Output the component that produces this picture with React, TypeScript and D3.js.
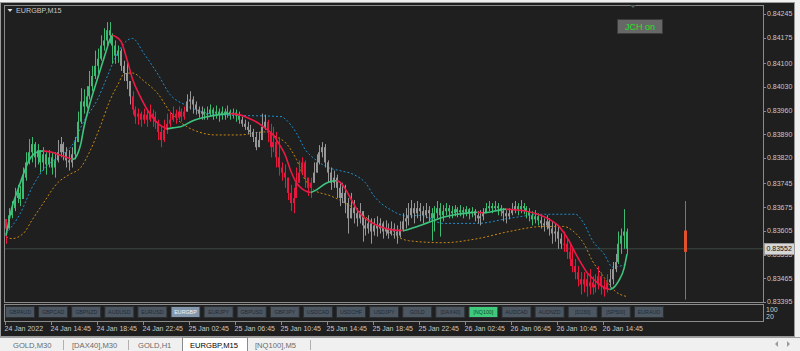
import React from "react";
import * as d3 from "d3";

// ---------- DATA ----------
const symbolTitle = "EURGBP,M15";
const startTime = Date.UTC(2022, 0, 24, 10, 45);
const barMinutes = 15;
const firstOpen = 0.8364;

const closes = [
  0.83612, 0.83651, 0.83672, 0.83702, 0.83717, 0.83699, 0.83762, 0.83807, 0.83837, 0.83861,
  0.83822, 0.83843, 0.83807, 0.83831, 0.83801, 0.83822, 0.83792, 0.83813, 0.83837, 0.83861,
  0.83837, 0.83813, 0.83807, 0.83831, 0.83867, 0.83927, 0.83987, 0.83972, 0.84002, 0.84032,
  0.84062, 0.84092, 0.84113, 0.84152, 0.84167, 0.84197, 0.84182, 0.84152, 0.84122, 0.84137,
  0.84092, 0.84071, 0.84047, 0.84002, 0.83963, 0.83942, 0.83951, 0.83933, 0.83948, 0.83933,
  0.83951, 0.83942, 0.83927, 0.83897, 0.83873, 0.83903, 0.83921, 0.83933, 0.83951, 0.83939,
  0.83957, 0.83942, 0.83957, 0.83987, 0.83993, 0.83978, 0.83963, 0.83951, 0.83957, 0.83948,
  0.83951, 0.83963, 0.83951, 0.83957, 0.83948, 0.83957, 0.83951, 0.83957, 0.83948, 0.83954,
  0.83945, 0.83933, 0.83921, 0.83912, 0.83903, 0.83897, 0.83882, 0.83852, 0.83873, 0.83912,
  0.83927, 0.83897, 0.83852, 0.83867, 0.83822, 0.83792, 0.83777, 0.83762, 0.83717, 0.83687,
  0.83702, 0.83747, 0.83777, 0.83807, 0.83762, 0.83732, 0.83747, 0.83777, 0.83807, 0.83837,
  0.83852, 0.83807, 0.83777, 0.83747, 0.83762, 0.83732, 0.83702, 0.83717, 0.83687, 0.83642,
  0.83672, 0.83657, 0.83642, 0.83663, 0.83621, 0.83612, 0.83627, 0.83603, 0.83621, 0.83612,
  0.83627, 0.83603, 0.83612, 0.83597, 0.83612, 0.83603, 0.83591, 0.83609, 0.83633, 0.83642,
  0.83651, 0.83672, 0.83657, 0.83672, 0.83663, 0.83651, 0.83666, 0.83657, 0.83642, 0.83657,
  0.83672, 0.83651, 0.83663, 0.83672, 0.83663, 0.83657, 0.83669, 0.8366, 0.83666, 0.8366,
  0.83669, 0.83657, 0.83663, 0.83651, 0.83642, 0.83648, 0.83657, 0.83672, 0.83678, 0.83672,
  0.83678, 0.83672, 0.83663, 0.83657, 0.83648, 0.83657, 0.83669, 0.83678, 0.83669, 0.83678,
  0.83672, 0.83663, 0.83651, 0.83639, 0.83648, 0.83636, 0.83627, 0.83621, 0.83633, 0.83612,
  0.83597, 0.83603, 0.83582, 0.83567, 0.83567, 0.83543, 0.83522, 0.83501, 0.83483, 0.83462,
  0.83447, 0.83462, 0.83441, 0.83453, 0.83438, 0.83447, 0.83471, 0.83441, 0.83432, 0.83453,
  0.83462, 0.83492, 0.83513, 0.83567, 0.83591, 0.83603, 0.83552,
];

const highs = [
  0.83633, 0.83672, 0.83693, 0.83732, 0.83741, 0.83738, 0.83792, 0.83837, 0.83876, 0.83882,
  0.83867, 0.83861, 0.83843, 0.83852, 0.83837, 0.83843, 0.83837, 0.83837, 0.83873, 0.83882,
  0.83867, 0.83852, 0.83843, 0.83852, 0.83882, 0.83957, 0.84026, 0.84023, 0.84032, 0.84077,
  0.84092, 0.84137, 0.84143, 0.84182, 0.84203, 0.84221, 0.84221, 0.84188, 0.84167, 0.84152,
  0.84143, 0.84107, 0.84101, 0.84038, 0.84017, 0.83972, 0.83966, 0.83957, 0.83966, 0.83963,
  0.83978, 0.83963, 0.83957, 0.83933, 0.83912, 0.83933, 0.83951, 0.83957, 0.83972, 0.83963,
  0.83972, 0.83966, 0.83972, 0.84008, 0.84017, 0.84002, 0.83987, 0.83972, 0.83972, 0.83966,
  0.83972, 0.83978, 0.83969, 0.83975, 0.83966, 0.83972, 0.83966, 0.83975, 0.83963, 0.83966,
  0.83963, 0.83957, 0.83942, 0.83933, 0.83927, 0.83918, 0.83906, 0.83897, 0.83897, 0.83951,
  0.83948, 0.83933, 0.83921, 0.83912, 0.83897, 0.83882, 0.83807, 0.83801, 0.83762, 0.83741,
  0.83732, 0.83792, 0.83813, 0.83822, 0.83813, 0.83753, 0.83762, 0.83807, 0.83831, 0.83858,
  0.83867, 0.83861, 0.83813, 0.83792, 0.83783, 0.83771, 0.83747, 0.83747, 0.83741, 0.83702,
  0.83717, 0.83696, 0.83672, 0.83687, 0.83657, 0.83642, 0.83651, 0.83642, 0.83642, 0.83648,
  0.83642, 0.83633, 0.83636, 0.83627, 0.83633, 0.83627, 0.83621, 0.83633, 0.83657, 0.83672,
  0.83687, 0.83696, 0.83687, 0.83693, 0.83687, 0.83678, 0.83687, 0.83678, 0.83672, 0.83678,
  0.83693, 0.83687, 0.83681, 0.83687, 0.83681, 0.83678, 0.83681, 0.83675, 0.83681, 0.83675,
  0.83678, 0.83672, 0.83675, 0.83669, 0.83663, 0.83666, 0.83672, 0.83687, 0.83693, 0.83687,
  0.83693, 0.83687, 0.83681, 0.83672, 0.83666, 0.83672, 0.83687, 0.83693, 0.83687, 0.83696,
  0.83687, 0.83678, 0.83672, 0.83663, 0.83666, 0.83657, 0.83648, 0.83642, 0.83651, 0.83642,
  0.83633, 0.83627, 0.83621, 0.83597, 0.83603, 0.83582, 0.83567, 0.83552, 0.83522, 0.83501,
  0.83483, 0.83483, 0.83477, 0.83492, 0.83471, 0.83477, 0.83501, 0.83483, 0.83462, 0.83477,
  0.83492, 0.83513, 0.83537, 0.83603, 0.83612, 0.83669, 0.83612,
];

const lows = [
  0.83567, 0.83612, 0.83642, 0.83663, 0.83687, 0.83678, 0.83702, 0.83753, 0.83801, 0.83807,
  0.83792, 0.83801, 0.83777, 0.83783, 0.83771, 0.83792, 0.83771, 0.83762, 0.83807, 0.83822,
  0.83813, 0.83792, 0.83783, 0.83792, 0.83816, 0.83867, 0.83921, 0.83951, 0.83966, 0.83993,
  0.84017, 0.84053, 0.84071, 0.84107, 0.84137, 0.84152, 0.84158, 0.84098, 0.84098, 0.84101,
  0.84077, 0.84047, 0.84023, 0.83978, 0.83948, 0.83921, 0.83918, 0.83912, 0.83921, 0.83912,
  0.83927, 0.83912, 0.83906, 0.83873, 0.83852, 0.83867, 0.83891, 0.83912, 0.83927, 0.83921,
  0.83933, 0.83927, 0.83933, 0.83957, 0.83963, 0.83951, 0.83948, 0.83939, 0.83933, 0.83933,
  0.83933, 0.83942, 0.83933, 0.83936, 0.83927, 0.83933, 0.83933, 0.83939, 0.83933, 0.83936,
  0.83927, 0.83921, 0.83912, 0.83903, 0.83891, 0.83882, 0.83867, 0.83843, 0.83852, 0.83897,
  0.83903, 0.83867, 0.83822, 0.83837, 0.83792, 0.83768, 0.83753, 0.83732, 0.83696, 0.83663,
  0.83657, 0.83711, 0.83753, 0.83771, 0.83732, 0.83708, 0.83702, 0.83753, 0.83777, 0.83801,
  0.83822, 0.83792, 0.83747, 0.83726, 0.83732, 0.83702, 0.83678, 0.83687, 0.83657, 0.83597,
  0.83642, 0.83627, 0.83618, 0.83627, 0.83573, 0.83591, 0.83597, 0.83567, 0.83591, 0.83588,
  0.83597, 0.83582, 0.83591, 0.83582, 0.83591, 0.83582, 0.83567, 0.83585, 0.83603, 0.83612,
  0.83621, 0.83642, 0.83627, 0.83642, 0.83633, 0.83627, 0.83642, 0.83633, 0.83576, 0.83603,
  0.83642, 0.83588, 0.83633, 0.83651, 0.83642, 0.83642, 0.83648, 0.83645, 0.83648, 0.83642,
  0.83648, 0.83639, 0.83645, 0.83633, 0.83627, 0.83621, 0.83636, 0.83657, 0.83663, 0.83657,
  0.83663, 0.83651, 0.83648, 0.83633, 0.83627, 0.83639, 0.83651, 0.83657, 0.83651, 0.83657,
  0.83654, 0.83642, 0.83633, 0.83621, 0.83627, 0.83621, 0.83612, 0.83603, 0.83609, 0.83591,
  0.83567, 0.83573, 0.83552, 0.83552, 0.83543, 0.83522, 0.83501, 0.83483, 0.83462, 0.83441,
  0.83417, 0.83423, 0.83411, 0.83417, 0.83417, 0.83423, 0.83432, 0.83417, 0.83411, 0.83423,
  0.83438, 0.83447, 0.83483, 0.83507, 0.83537, 0.83552, 0.83537,
];

// trend state of the candles: [first bar, state]
const candleStates: [number, string][] = [
  [0, "down"], [1, "up"], [18, "flat"], [24, "up"], [40, "flat"], [44, "down"],
  [63, "flat"], [69, "up"], [82, "flat"], [91, "down"], [107, "flat"], [148, "up"],
  [163, "flat"], [167, "up"], [173, "flat"], [178, "up"], [186, "flat"], [194, "down"],
  [210, "flat"], [213, "up"],
];

// trend moving average (bar index, price)
const maBars = [0, 2, 4, 6, 8, 10, 12, 13, 16, 19, 22, 23, 24, 25, 26, 27, 29, 31, 33, 35, 36, 37, 38, 40, 42, 44, 47, 50, 53, 56, 58, 61, 65, 70, 74, 78, 81, 84, 87, 90, 93, 95, 97, 99, 101, 103, 105, 106, 108, 111, 113, 115, 116, 118, 120, 122, 124, 127, 131, 135, 138, 139, 142, 145, 148, 152, 157, 161, 164, 166, 168, 172, 174, 177, 181, 185, 189, 192, 194, 196, 198, 200, 202, 204, 206, 208, 210, 211, 213, 215, 216];
const maPrices = [0.83591, 0.83672, 0.83723, 0.83771, 0.83813, 0.83834, 0.8384, 0.83841, 0.83837, 0.83828, 0.83819, 0.83816, 0.83819, 0.83834, 0.83861, 0.83906, 0.83975, 0.84032, 0.84086, 0.8414, 0.84167, 0.84182, 0.84179, 0.84164, 0.84113, 0.84053, 0.83996, 0.83951, 0.83921, 0.83906, 0.83909, 0.83913, 0.8393, 0.83942, 0.83948, 0.83951, 0.83948, 0.83939, 0.83927, 0.83909, 0.83888, 0.83861, 0.83831, 0.83783, 0.83747, 0.83729, 0.8372, 0.83718, 0.83726, 0.83744, 0.83751, 0.83753, 0.8375, 0.83729, 0.83699, 0.83669, 0.83648, 0.8363, 0.83615, 0.83607, 0.83606, 0.83607, 0.83615, 0.83624, 0.83633, 0.83645, 0.83654, 0.83658, 0.8366, 0.83658, 0.8366, 0.83667, 0.83669, 0.83667, 0.83663, 0.83654, 0.83639, 0.83621, 0.836, 0.83573, 0.8354, 0.8351, 0.83483, 0.83465, 0.8345, 0.83438, 0.83432, 0.83435, 0.83456, 0.83495, 0.83537];

// upper (blue dotted) band
const upperBars = [0, 5, 9, 13, 19, 23, 27, 32, 35, 38, 41, 44, 48, 53, 57, 62, 68, 73, 96, 97, 101, 104, 108, 112, 116, 121, 125, 128, 134, 140, 144, 152, 164, 175, 187, 198, 201, 204, 208, 211, 216];
const upperPrices = [0.83597, 0.83657, 0.83732, 0.83786, 0.83828, 0.83858, 0.83927, 0.83996, 0.84056, 0.84116, 0.84158, 0.84173, 0.84128, 0.84065, 0.84008, 0.83978, 0.83957, 0.83948, 0.83942, 0.83936, 0.83894, 0.83846, 0.83813, 0.83792, 0.83783, 0.83771, 0.83747, 0.83708, 0.83666, 0.83648, 0.83651, 0.83627, 0.83627, 0.83642, 0.83654, 0.83654, 0.83627, 0.83576, 0.83537, 0.83498, 0.83507];

// lower (orange dotted) band
const lowerBars = [0, 2, 6, 9, 13, 18, 22, 26, 29, 33, 36, 39, 41, 44, 48, 53, 57, 63, 67, 73, 81, 90, 94, 97, 101, 104, 107, 113, 118, 122, 128, 134, 140, 152, 164, 175, 187, 194, 197, 201, 204, 208, 212, 216];
const lowerPrices = [0.83588, 0.83582, 0.83597, 0.83636, 0.83687, 0.83747, 0.83771, 0.83792, 0.83837, 0.83918, 0.83987, 0.84038, 0.84068, 0.84071, 0.84047, 0.84008, 0.83957, 0.83912, 0.83897, 0.83888, 0.83888, 0.83897, 0.83882, 0.83867, 0.83816, 0.83756, 0.83726, 0.83708, 0.83687, 0.83666, 0.83627, 0.83597, 0.83576, 0.8357, 0.83582, 0.83603, 0.83618, 0.83618, 0.83606, 0.83567, 0.83516, 0.83468, 0.83426, 0.83411];

// higher-timeframe candle drawn to the right of the price
const htfBar = 236;
const htfOpen = 0.83606;
const htfHigh = 0.83693;
const htfLow = 0.83402;
const htfClose = 0.83543;

const currentPrice = 0.83552;
const priceMin = 0.83395;
const priceMax = 0.84245;
const priceTicks = [0.84245, 0.84175, 0.841, 0.8403, 0.8396, 0.8389, 0.8382, 0.83745, 0.83675, 0.83605, 0.83535, 0.83465, 0.83395];
const timeTickEvery = 16;

const symbolButtons = ["GBPAUD", "GBPCAD", "GBPNZD", "AUDUSD", "EURUSD", "EURGBP", "EURJPY", "GBPUSD", "GBPJPY", "USDCAD", "USDCHF", "USDJPY", "GOLD", "[DAX40]", "[NQ100]", "AUDCAD", "AUDNZD", "[DJ30]", "[SP500]", "EURAUD"];
const activeButton = "EURGBP";
const markedButton = "[NQ100]";
const subLevels = ["100", "20"];

const chartTabs = ["GOLD,M30", "[DAX40],M30", "GOLD,H1", "EURGBP,M15", "[NQ100],M5"];
const activeTab = "EURGBP,M15";

// ---------- STYLE ----------
const C = {
  bg: "#1f1f1f",
  frame: "#8a8a8a",
  text: "#c8c8c8",
  up: "#3dbb73",
  down: "#e8173f",
  flat: "#979797",
  maUp: "#3fc47e",
  maDown: "#ea1a45",
  upper: "#1d8fcc",
  lower: "#c98712",
  htf: "#e0522c",
  priceLine: "#3b4a44",
};
const FONT = "'Liberation Sans', Arial, sans-serif";

const barTime = (i: number) => new Date(startTime + i * barMinutes * 60000);

function stateAt(i: number) {
  let s = candleStates[0][1];
  for (const [b, st] of candleStates) if (b <= i) s = st;
  return s;
}

function trendSegments(bars: number[], prices: number[]) {
  const segs: { dir: string; pts: [number, number][] }[] = [];
  let dir = prices[1] >= prices[0] ? "up" : "down";
  let cur: [number, number][] = [[bars[0], prices[0]]];
  for (let k = 1; k < bars.length; k++) {
    const d = prices[k] > prices[k - 1] ? "up" : prices[k] < prices[k - 1] ? "down" : dir;
    if (d !== dir) {
      segs.push({ dir, pts: cur });
      cur = [[bars[k - 1], prices[k - 1]]];
      dir = d;
    }
    cur.push([bars[k], prices[k]]);
  }
  segs.push({ dir, pts: cur });
  return segs;
}

export default function App() {
  const plot = { l: 5, r: 763, t: 6, b: 302 };
  const n = closes.length;
  const x = d3.scaleUtc().domain([barTime(0), barTime(n - 1)]).range([6, 627]);
  const y = d3.scaleLinear().domain([priceMin, priceMax]).range([302, 14]);
  const xb = (i: number) => x(barTime(i));

  const line = d3
    .line<[number, number]>()
    .x((d) => xb(d[0]))
    .y((d) => y(d[1]))
    .curve(d3.curveMonotoneX);

  const maSegs = trendSegments(maBars, maPrices);
  const upperPts = upperBars.map((b, k) => [b, upperPrices[k]] as [number, number]);
  const lowerPts = lowerBars.map((b, k) => [b, lowerPrices[k]] as [number, number]);

  const fmtFirst = d3.utcFormat("%d %b %Y");
  const fmtTime = d3.utcFormat("%d %b %H:%M");
  const timeTicks = d3.range(0, n, timeTickEvery);

  const candles = closes.map((c, i) => {
    const o = i === 0 ? firstOpen : closes[i - 1];
    const hi = Math.max(highs[i], o, c);
    const lo = Math.min(lows[i], o, c);
    const st = stateAt(i);
    const col = st === "up" ? C.up : st === "down" ? C.down : C.flat;
    const cx = Math.round(xb(i));
    const yTop = y(Math.max(o, c));
    const yBot = y(Math.min(o, c));
    return (
      <g key={i} fill={col}>
        <rect x={cx} y={y(hi)} width={1} height={Math.max(1, y(lo) - y(hi))} />
        <rect x={cx - 1} y={yTop} width={2} height={Math.max(1, yBot - yTop)} />
      </g>
    );
  });

  const btnPitch = 33.1;
  const tabTextX = [13, 72, 138, 190, 255];
  const tabSeps = [63, 128, 310];

  const hx = Math.round(xb(htfBar));
  const priceY = y(currentPrice);

  return (
    <svg
      width={800}
      height={351}
      style={{ position: "absolute", left: 0, top: 0, display: "block" }}
      fontFamily={FONT}
    >
      <defs>
        <clipPath id="plotClip">
          <rect x={plot.l} y={plot.t} width={plot.r - plot.l} height={plot.b - plot.t} />
        </clipPath>
      </defs>
      {/* window */}
      <rect x={0} y={0} width={800} height={351} fill="#f0f0f0" />
      <rect x={0} y={2} width={795} height={335} fill={C.bg} />
      <rect x={0.5} y={2.5} width={794} height={334} fill="none" stroke="#9a9a9a" />

      {/* frames */}
      <rect x={4.5} y={5.5} width={759} height={297} fill="none" stroke={C.frame} />
      <rect x={4.5} y={304.5} width={759} height={17} fill="none" stroke={C.frame} />

      {/* plot */}
      <g clipPath="url(#plotClip)">
        <line x1={plot.l} x2={plot.r} y1={priceY} y2={priceY} stroke={C.priceLine} strokeWidth={1} />
        <path d={line(upperPts) || ""} fill="none" stroke={C.upper} strokeWidth={1} strokeDasharray="2 2" />
        <path d={line(lowerPts) || ""} fill="none" stroke={C.lower} strokeWidth={1} strokeDasharray="2 2" />
        {candles}
        {maSegs.map((s, k) => (
          <path
            key={k}
            d={line(s.pts) || ""}
            fill="none"
            stroke={s.dir === "up" ? C.maUp : C.maDown}
            strokeWidth={1.6}
            strokeLinejoin="round"
          />
        ))}
        {/* higher timeframe candle */}
        <rect x={hx} y={y(htfHigh)} width={1} height={y(htfLow) - y(htfHigh)} fill={C.htf} />
        <rect
          x={hx - 1}
          y={y(Math.max(htfOpen, htfClose))}
          width={3}
          height={y(Math.min(htfOpen, htfClose)) - y(Math.max(htfOpen, htfClose))}
          fill={C.htf}
        />
      </g>

      {/* shift marker */}
      <path d="M630,5 L636,5 L633,8 Z" fill="#55605f" />

      {/* title */}
      <path d="M7.5,9 L12.5,9 L10,12 Z" fill="#e0e0e0" />
      <text x={16} y={13} fontSize={7.2} fill={C.text}>{symbolTitle}</text>

      {/* JCH button */}
      <rect x={617.5} y={19.5} width={45} height={14} fill="#676767" stroke="#3c3c3c" />
      <text x={640} y={29.8} fontSize={9} fill="#26e026" textAnchor="middle">JCH on</text>

      {/* price axis */}
      {priceTicks.map((p) => (
        <g key={p}>
          <line x1={763} x2={766} y1={Math.round(y(p)) + 0.5} y2={Math.round(y(p)) + 0.5} stroke={C.frame} />
          <text x={767} y={y(p)} dy="0.35em" fontSize={7} fill={C.text}>
            {p.toFixed(5)}
          </text>
        </g>
      ))}
      <rect x={764.5} y={Math.round(priceY) - 5.5} width={30} height={11} fill="#d6d6d6" stroke="#9a9a9a" />
      <text x={766.5} y={priceY} dy="0.35em" fontSize={7} fill="#101010">
        {currentPrice.toFixed(5)}
      </text>

      {/* sub window */}
      {symbolButtons.map((s, k) => {
        const bx = 5 + k * btnPitch;
        const active = s === activeButton;
        const marked = s === markedButton;
        return (
          <g key={s}>
            <rect
              x={bx + 0.5}
              y={306.5}
              width={29}
              height={11}
              fill={marked ? "#3fca7c" : active ? "#8498ad" : "#4d5762"}
              stroke="#2b2f33"
            />
            <text
              x={bx + 15}
              y={314}
              fontSize={5.3}
              textAnchor="middle"
              fill={active ? "#f2f5f8" : marked ? "#164a2c" : "#1f2a35"}
            >
              {s}
            </text>
          </g>
        );
      })}
      {subLevels.map((s, k) => (
        <text key={s} x={766} y={312 + k * 7} fontSize={7} fill={C.text}>
          {s}
        </text>
      ))}

      {/* time axis */}
      {timeTicks.map((b) => {
        const tx = Math.round(xb(b)) - 0.5;
        return (
          <g key={b}>
            <line x1={tx} x2={tx} y1={322} y2={325} stroke={C.frame} />
            <text x={tx - 1} y={331} fontSize={7} fill={C.text}>
              {b === 0 ? fmtFirst(barTime(b)) : fmtTime(barTime(b))}
            </text>
          </g>
        );
      })}

      {/* bottom tabs */}
      <rect x={0} y={337} width={800} height={14} fill="#f0f0f0" />
      <line x1={0} x2={800} y1={337.5} y2={337.5} stroke="#a0a0a0" />
      {chartTabs.map((t, k) =>
        t === activeTab ? (
          <g key={t}>
            <rect x={182.5} y={337.5} width={65} height={14} fill="#ffffff" stroke="#8a8a8a" />
            <text x={tabTextX[k]} y={348} fontSize={7.6} fill="#000">{t}</text>
          </g>
        ) : (
          <text key={t} x={tabTextX[k]} y={348} fontSize={7.6} fill="#6a6a6a">{t}</text>
        )
      )}
      {tabSeps.map((sx) => (
        <line key={sx} x1={sx + 0.5} x2={sx + 0.5} y1={340} y2={350} stroke="#b0b0b0" />
      ))}
      <path d="M778,341 L778,347 L775,344 Z" fill="#9a9a9a" />
      <path d="M787,341 L787,347 L790,344 Z" fill="#9a9a9a" />
    </svg>
  );
}
